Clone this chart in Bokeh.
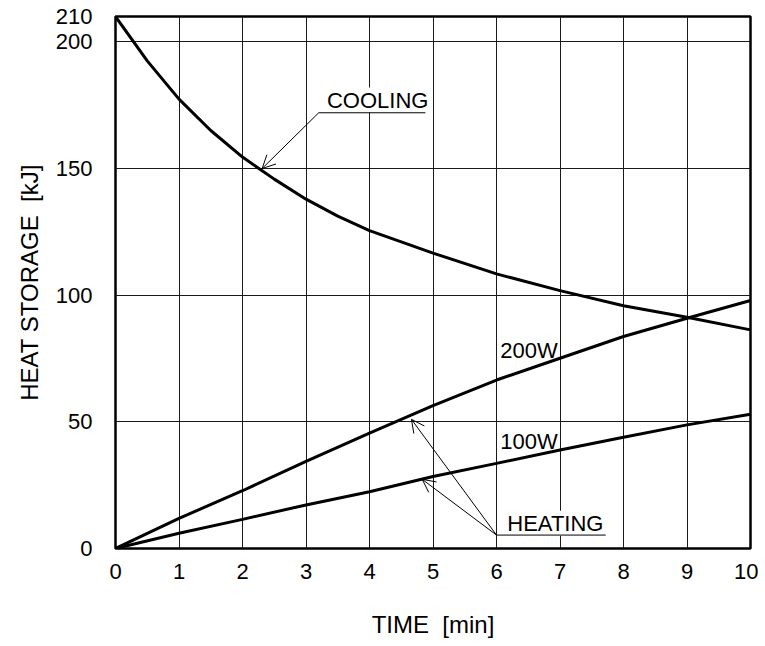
from bokeh.plotting import figure
from bokeh.models import Range1d, FixedTicker, Label, Arrow, OpenHead
from bokeh.embed import file_html
from bokeh.resources import INLINE

# ---- data ----
t_cool = [0, 0.5, 1, 1.5, 2, 2.5, 3, 3.5, 4, 5, 6, 7, 8, 9, 10]
q_cool = [210, 192.5, 177.4, 165.0, 154.5, 145.8, 137.9, 131.2, 125.5, 116.6, 108.4, 101.8, 95.8, 91.3, 86.3]

t_heat = [0, 1, 2, 3, 4, 5, 6, 7, 8, 9, 10]
q_200w = [0, 11.9, 22.8, 34.4, 45.5, 56.4, 66.5, 75.1, 83.7, 90.9, 97.9]
q_100w = [0, 6.0, 11.5, 17.2, 22.4, 28.4, 33.6, 38.9, 43.9, 48.8, 53.0]

x_ticks = [0, 1, 2, 3, 4, 5, 6, 7, 8, 9, 10]
y_ticks = [0, 50, 100, 150, 200, 210]
y_grid = [0, 50, 100, 150, 200]

# annotation anchors (data units)
cool_text = (3.33, 177.0)
cool_line = (3.2, 4.88, 172.0)
cool_tip = (2.31, 150.0)
heat_text = (6.17, 10.0)
heat_line = (6.0, 7.72, 5.3)
heat_tips = [(4.66, 51.0), (4.83, 27.3)]
lbl_200 = (6.06, 78.0)
lbl_100 = (6.06, 42.2)

FONT = "Liberation Sans"
NB = "\u00a0"

p = figure(width=758, height=640, output_backend="svg", toolbar_location=None,
           x_range=Range1d(0, 10), y_range=Range1d(0, 210),
           min_border_left=115, min_border_right=8, min_border_top=16, min_border_bottom=91)

p.outline_line_color = "black"
p.outline_line_width = 2.5
p.outline_line_alpha = 1.0

for ax in (p.xaxis[0], p.yaxis[0]):
    ax.axis_line_color = None
    ax.major_tick_line_color = None
    ax.minor_tick_line_color = None
    ax.major_label_text_font = FONT
    ax.major_label_text_font_size = "22px"
    ax.major_label_text_color = "black"
    ax.axis_label_text_font = FONT
    ax.axis_label_text_font_size = "24px"
    ax.axis_label_text_font_style = "normal"
    ax.axis_label_text_color = "black"

p.xaxis.ticker = FixedTicker(ticks=x_ticks)
p.yaxis.ticker = FixedTicker(ticks=y_ticks)
p.xaxis.axis_label = "TIME" + NB + NB + "[min]"
p.yaxis.axis_label = "HEAT STORAGE" + NB + NB + "[kJ]"
p.xaxis.major_label_standoff = 9
p.yaxis.major_label_standoff = 17
p.xaxis.axis_label_standoff = 29
p.yaxis.axis_label_standoff = 10

p.xgrid.ticker = FixedTicker(ticks=x_ticks)
p.ygrid.ticker = FixedTicker(ticks=y_grid)
for g in (p.xgrid[0], p.ygrid[0]):
    g.grid_line_color = "#1a1a1a"
    g.grid_line_width = 1

# curves
p.line(t_cool, q_cool, line_color="black", line_width=3)
p.line(t_heat, q_200w, line_color="black", line_width=3)
p.line(t_heat, q_100w, line_color="black", line_width=3)

# annotations
def label(x, y, txt, bg):
    lab = Label(x=x, y=y, text=txt, text_font=FONT, text_font_size="22px",
                text_color="black", text_baseline="alphabetic", text_align="left",
                background_fill_color="white" if bg else None,
                background_fill_alpha=1.0 if bg else 0.0)
    p.add_layout(lab)

label(cool_text[0], cool_text[1], "COOLING", True)
label(heat_text[0], heat_text[1], "HEATING", True)
label(lbl_200[0], lbl_200[1], "200W", False)
label(lbl_100[0], lbl_100[1], "100W", False)

# underlines (drawn after the labels so they stay visible)
for x0, x1, y in (cool_line, heat_line):
    p.add_layout(Arrow(x_start=x0, y_start=y, x_end=x1, y_end=y, end=None,
                       line_color="black", line_width=1))

p.add_layout(Arrow(x_start=cool_line[0], y_start=cool_line[2], x_end=cool_tip[0], y_end=cool_tip[1],
                   line_color="black", line_width=1,
                   end=OpenHead(size=13, line_width=1, line_color="black")))
for tx, ty in heat_tips:
    p.add_layout(Arrow(x_start=heat_line[0], y_start=heat_line[2], x_end=tx, y_end=ty,
                       line_color="black", line_width=1,
                       end=OpenHead(size=13, line_width=1, line_color="black")))

open("out.html", "w").write(file_html(p, INLINE))
